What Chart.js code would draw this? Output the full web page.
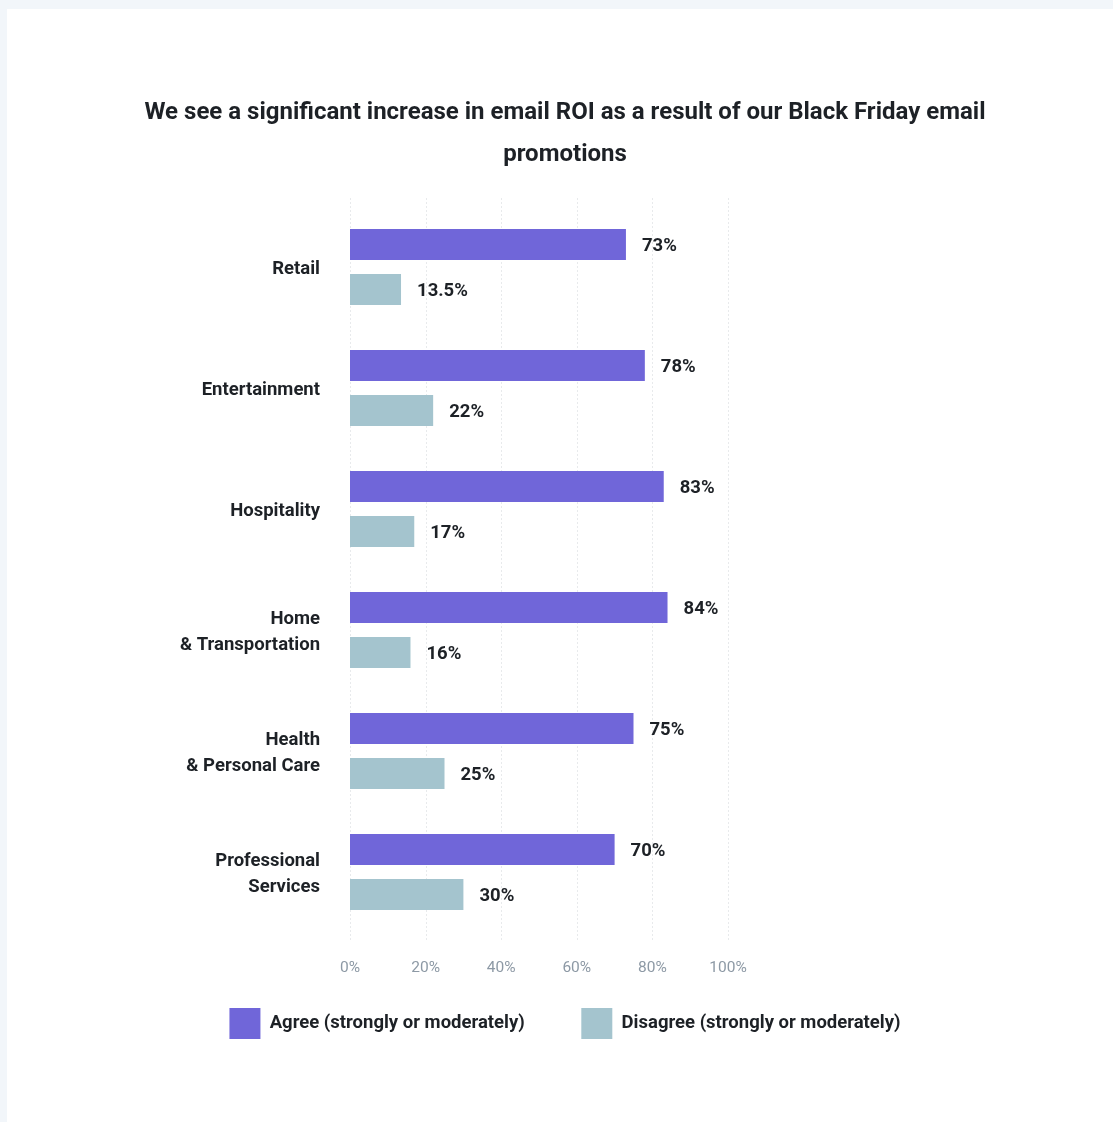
<!DOCTYPE html>
<html>
<head>
<meta charset="utf-8">
<script src="https://cdn.jsdelivr.net/npm/chart.js@4.4.1/dist/chart.umd.min.js"></script>
<style>
  html,body{margin:0;padding:0;background:#f2f6fa;}
  #card{position:absolute;left:7px;top:9px;width:1106px;height:1113px;background:#fff;}
  #wrap{position:absolute;left:10px;top:0;width:1096px;height:1113px;}
</style>
</head>
<body>
<div id="card"><div id="wrap"><canvas id="roi"></canvas></div></div>
<script>
/* Black Friday email ROI — agree / disagree by industry */
const categories = ['Retail', 'Entertainment', 'Hospitality', ['Home', '& Transportation'], ['Health', '& Personal Care'], ['Professional', 'Services']];
const agree = [73, 78, 83, 84, 75, 70];
const disagree = [13.5, 22, 17, 16, 25, 30];
const xTicks = [0, 20, 40, 60, 80, 100];

const INK = '#1d2126';
const FONT = 'Roboto, "Noto Sans", sans-serif';
const BOLD = 18.5;

// dotted vertical guides, a little longer than the plot area
const dottedGrid = {
  id: 'dottedGrid',
  beforeDatasetsDraw(chart){
    const {ctx, chartArea, scales} = chart;
    ctx.save();
    ctx.strokeStyle = '#d0d4d8';
    ctx.lineWidth = 1;
    ctx.setLineDash([1, 3]);
    xTicks.forEach(v => {
      const x = Math.round(scales.x.getPixelForValue(v)) + 0.5;
      ctx.beginPath();
      ctx.moveTo(x, chartArea.top - 8);
      ctx.lineTo(x, chartArea.bottom + 8);
      ctx.stroke();
    });
    ctx.restore();
  }
};

// value at the end of each bar
const barValues = {
  id: 'barValues',
  afterDatasetsDraw(chart){
    const {ctx} = chart;
    ctx.save();
    ctx.font = 'bold ' + BOLD + 'px ' + FONT;
    ctx.fillStyle = INK;
    ctx.textAlign = 'left';
    ctx.textBaseline = 'middle';
    chart.data.datasets.forEach((ds, i) => {
      chart.getDatasetMeta(i).data.forEach((bar, j) => {
        ctx.fillText(ds.data[j] + '%', bar.x + 16, bar.y + 2);
      });
    });
    ctx.restore();
  }
};

new Chart(document.getElementById('roi'), {
  type: 'bar',
  data: {
    labels: categories,
    datasets: [
      {label: 'Agree (strongly or moderately)', data: agree, backgroundColor: '#7066d9'},
      {label: 'Disagree (strongly or moderately)', data: disagree, backgroundColor: '#a4c4ce'}
    ]
  },
  options: {
    indexAxis: 'y',
    responsive: true,
    maintainAspectRatio: false,
    animation: false,
    categoryPercentage: 0.744,
    barPercentage: 0.689,
    layout: {padding: {left: 0, right: 0, top: 0, bottom: 82.5}},
    scales: {
      x: {
        min: 0, max: 100,
        afterBuildTicks: s => { s.ticks = xTicks.map(v => ({value: v})); },
        grid: {display: false, drawTicks: false},
        border: {display: false},
        // mirrored so the labels are not clipped to the short axis box
        ticks: {mirror: true, padding: -44.8, color: '#8d99a5', font: {family: FONT, size: 15.5}, callback: v => v + '%'},
        afterFit: s => { s.height = 19; }
      },
      y: {
        grid: {display: false, drawTicks: false},
        border: {display: false},
        ticks: {padding: 30, labelOffset: 2, color: INK, font: {family: FONT, size: BOLD, weight: 'bold', lineHeight: 26 / BOLD}},
        afterFit: s => { s.width = 333; }
      },
      side: {
        type: 'linear',
        position: 'right',
        grid: {display: false, drawTicks: false},
        border: {display: false},
        ticks: {display: false},
        afterFit: s => { s.width = 385; }
      }
    },
    plugins: {
      title: {
        display: true,
        text: ['We see a significant increase in email ROI as a result of our Black Friday email', 'promotions'],
        color: INK,
        font: {family: FONT, size: 24, weight: 'bold', lineHeight: 42 / 24},
        padding: {top: 83, bottom: 30.5}
      },
      legend: {
        position: 'bottom',
        maxHeight: 88,
        labels: {
          boxWidth: 31, boxHeight: 31, padding: 56.5,
          color: INK,
          font: {family: FONT, size: BOLD, weight: 'bold'}
        }
      },
      tooltip: {enabled: false}
    }
  },
  plugins: [dottedGrid, barValues]
});
</script>
</body>
</html>
